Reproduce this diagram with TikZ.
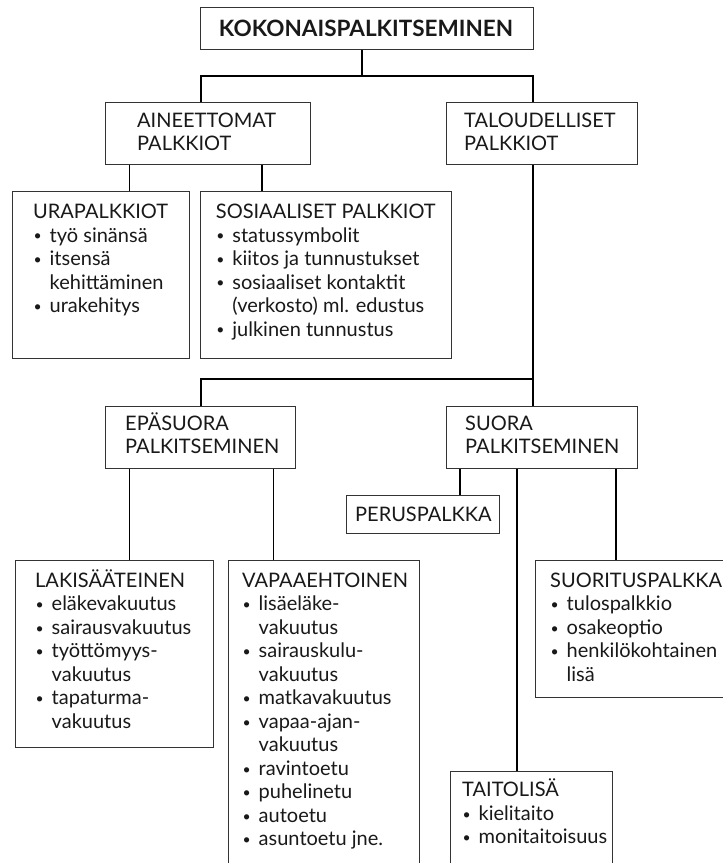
\documentclass[tikz,border=0pt]{standalone}
\usepackage{fontspec}
\setmainfont{Lato}
\newcommand\mybul{\makebox[16.5pt][l]{\hspace{0.5pt}\raisebox{1.2pt}{\fontsize{14}{0}\selectfont •}}}
\newcommand\myind{\hspace*{16.5pt}}
\newcommand\mystr{\rule{0pt}{20pt}}
\tikzset{
  box/.style={draw=black!80, line width=1.1pt, inner sep=0pt, anchor=north west, fill=white},
  conn/.style={draw=black, line width=1.6pt},
  txt/.style={inner sep=0pt, anchor=north west, align=left, text=black!90, font=\fontsize{20}{23.5}\selectfont},
  txtb/.style={inner sep=0pt, anchor=north west, align=left, text=black!90, font=\fontsize{20}{23}\selectfont},
}
\begin{document}
\begin{tikzpicture}[x=1pt,y=-1pt]
\useasboundingbox (0,0) rectangle (723,863);
\clip (0,0) rectangle (723,863);
\fill[white] (0,0) rectangle (723,863);
% boxes
\node[box, minimum width=333pt, minimum height=42pt] (top) at (200,7) {};
\node[box, minimum width=205pt, minimum height=62pt] (ain) at (105,102) {};
\node[box, minimum width=191pt, minimum height=62pt] (tal) at (446,102) {};
\node[box, minimum width=177pt, minimum height=167pt] (ura) at (12,191) {};
\node[box, minimum width=251pt, minimum height=167pt] (sos) at (200,191) {};
\node[box, minimum width=190pt, minimum height=62pt] (epa) at (105,406) {};
\node[box, minimum width=191pt, minimum height=62pt] (suo) at (446,406) {};
\node[box, minimum width=153pt, minimum height=38pt] (per) at (346,495) {};
\node[box, minimum width=198pt, minimum height=187pt] (lak) at (15,560) {};
\node[box, minimum width=191pt, minimum height=320pt] (vap) at (228,560) {};
\node[box, minimum width=200pt, minimum height=137pt] (sui) at (535,560) {};
\node[box, minimum width=162pt, minimum height=110pt] (tai) at (450,771) {};
% texts
\node[inner sep=0pt, text=black!90, font=\fontsize{22.5}{24}\selectfont\bfseries] (top-t) at (366,28) {KOKONAISPALKITSEMINEN};
\node[txtb] (ain-t) at (137,107) {\mystr AINEETTOMAT\\PALKKIOT};
\node[txtb] (tal-t) at (464,107) {\mystr TALOUDELLISET\\PALKKIOT};
\node[txt] (ura-t) at (33,198.3) {\mystr URAPALKKIOT\\\mybul työ sinänsä\\\mybul itsensä\\\myind kehittäminen\\\mybul urakehitys};
\node[txt] (sos-t) at (215.7,198.3) {\mystr SOSIAALISET PALKKIOT\\\mybul statussymbolit\\\mybul kiitos ja tunnustukset\\\mybul sosiaaliset kontaktit\\\myind (verkosto) ml. edustus\\\mybul julkinen tunnustus};
\node[txtb] (epa-t) at (125,410) {\mystr EPÄSUORA\\PALKITSEMINEN};
\node[txtb] (suo-t) at (465,410) {\mystr SUORA\\PALKITSEMINEN};
\node[txt] (per-t) at (355,501) {\mystr PERUSPALKKA};
\node[txt] (lak-t) at (35,567) {\mystr LAKISÄÄTEINEN\\\mybul eläkevakuutus\\\mybul sairausvakuutus\\\mybul työttömyys-\\\myind vakuutus\\\mybul tapaturma-\\\myind vakuutus};
\node[txt] (vap-t) at (242,567) {\mystr VAPAAEHTOINEN\\\mybul lisäeläke-\\\myind vakuutus\\\mybul sairauskulu-\\\myind vakuutus\\\mybul matkavakuutus\\\mybul vapaa-ajan-\\\myind vakuutus\\\mybul ravintoetu\\\mybul puhelinetu\\\mybul autoetu\\\mybul asuntoetu jne.};
\node[txt] (sui-t) at (550,567) {\mystr SUORITUSPALKKA\\\mybul tulospalkkio\\\mybul osakeoptio\\\mybul henkilökohtainen\\\myind lisä};
\node[txt] (tai-t) at (462,776.7) {\mystr TAITOLISÄ\\\mybul kielitaito\\\mybul monitaitoisuus};
% junctions
\coordinate (j0) at (362,76);
\coordinate (j1L) at (201,76);
\coordinate (j1R) at (533,76);
\coordinate (j2L) at (201,379);
\coordinate (j2R) at (533,379);
\coordinate (xa1) at (129.5,0);
\coordinate (xa2) at (262,0);
\coordinate (xe1) at (129.5,0);
\coordinate (xe2) at (273.5,0);
\coordinate (xs1) at (460,0);
\coordinate (xs2) at (517,0);
\coordinate (xs3) at (616,0);
% connectors
\draw[conn] (top.south -| j0) -- (j0);
\draw[conn] (ain.north -| j1L) -- (j1L) -- (j1R) -- (tal.north -| j1R);
\draw[conn] (ain.south -| xa1) -- (ura.north -| xa1);
\draw[conn] (ain.south -| xa2) -- (sos.north -| xa2);
\draw[conn] (tal.south -| j2R) -- (suo.north -| j2R);
\draw[conn] (j2R) -- (j2L) -- (epa.north -| j2L);
\draw[conn] (epa.south -| xe1) -- (lak.north -| xe1);
\draw[conn] (epa.south -| xe2) -- (vap.north -| xe2);
\draw[conn] (suo.south -| xs1) -- (per.north -| xs1);
\draw[conn] (suo.south -| xs2) -- (tai.north -| xs2);
\draw[conn] (suo.south -| xs3) -- (sui.north -| xs3);
\end{tikzpicture}
\end{document}
